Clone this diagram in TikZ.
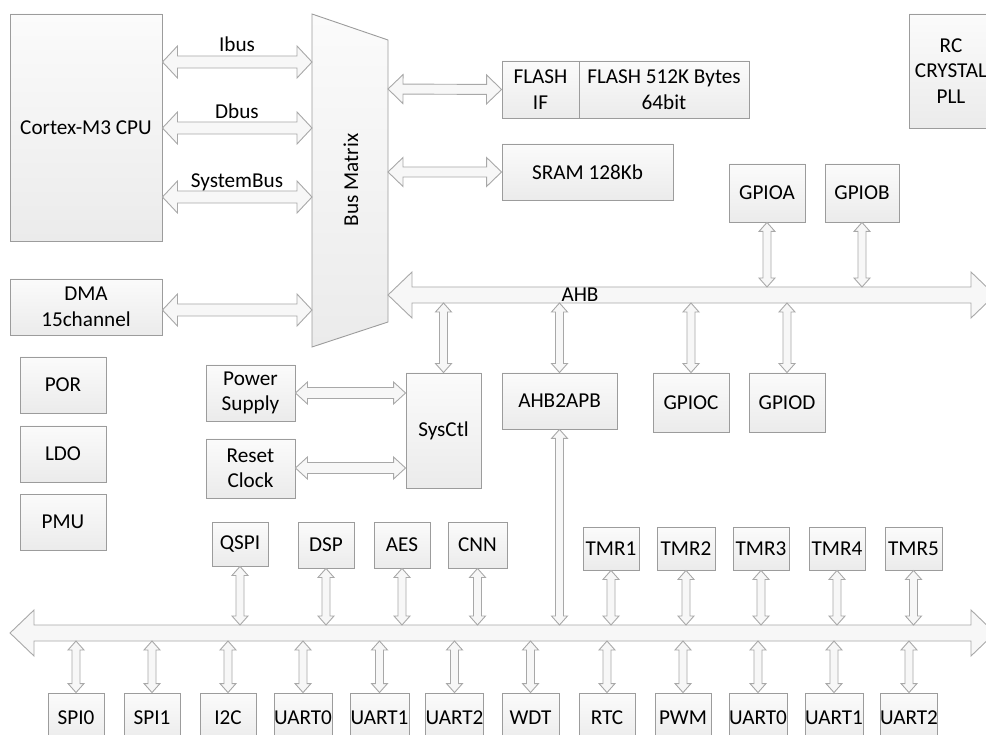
\documentclass[tikz,border=0pt]{standalone}
\usepackage{fontspec}
\setmainfont{Carlito}
\usepackage{tikz}
\usetikzlibrary{calc}
\definecolor{boxline}{HTML}{9C9C9C}
\definecolor{boxtop}{HTML}{FBFBFB}
\definecolor{boxbot}{HTML}{EBEBEB}
\definecolor{arrline}{HTML}{A8A8A8}
\definecolor{arrfill}{HTML}{F7F7F7}
\tikzset{
  blk/.style={rectangle, draw=boxline, line width=0.9pt, top color=boxtop, bottom color=boxbot,
              align=center, inner sep=0pt, font=\fontsize{21.2}{25.5}\selectfont},
  bmshape/.style={draw=boxline, line width=0.9pt, top color=boxtop, bottom color=boxbot},
  busarr/.style={draw=arrline, line width=0.9pt, fill=arrfill, line join=miter},
  lbl/.style={font=\fontsize{21.2}{25.5}\selectfont, inner sep=0pt},
}
% #1 shaft half width, #2 head half width, #3 head length, #4 from, #5 to
\newcommand{\dblarrow}[5]{%
  \path (#4) coordinate (da) (#5) coordinate (db);
  \draw[busarr] (da)
    -- ($(da)!#3!(db)!#2!90:(db)$) -- ($(da)!#3!(db)!#1!90:(db)$)
    -- ($(db)!#3!(da)!#1!-90:(da)$) -- ($(db)!#3!(da)!#2!-90:(da)$)
    -- (db)
    -- ($(db)!#3!(da)!#2!90:(da)$) -- ($(db)!#3!(da)!#1!90:(da)$)
    -- ($(da)!#3!(db)!#1!-90:(db)$) -- ($(da)!#3!(db)!#2!-90:(db)$)
    -- cycle;}

\begin{document}
\begin{tikzpicture}[x=1pt, y=-1pt]
  \useasboundingbox (0,0) rectangle (986,735);

  % cpu side
  \node[blk, minimum width=152, minimum height=227] (cpu) at (86,127.5) {Cortex-M3 CPU};
  \node[blk, minimum width=152, minimum height=56] (dma) at (86,307) {DMA\\15channel};
  \coordinate (bmtl) at (312,14);
  \coordinate (bmtr) at (388,40);
  \coordinate (bmbr) at (388,322);
  \coordinate (bmbl) at (312,347);
  \draw[bmshape] (bmtl) -- (bmtr) -- (bmbr) -- (bmbl) -- cycle;
  \node[lbl, rotate=90] (bmlbl) at (351,180) {Bus Matrix};

  \dblarrow{6pt}{16pt}{15pt}{cpu.east |- 0,62}{bmtl |- 0,62}
  \dblarrow{6pt}{16pt}{15pt}{cpu.east |- 0,128}{bmtl |- 0,128}
  \dblarrow{6pt}{16pt}{15pt}{cpu.east |- 0,197}{bmtl |- 0,197}
  \dblarrow{6pt}{16pt}{15pt}{dma.east |- 0,310}{bmtl |- 0,310}
  \node[lbl] (ibus) at (237,44) {Ibus};
  \node[lbl] (dbus) at (237,111) {Dbus};
  \node[lbl] (sysbus) at (237,182) {SystemBus};

  % memories
  \node[blk, minimum width=77, minimum height=57] (flashif) at (540.5,89.5) {FLASH\\IF};
  \node[blk, minimum width=170, minimum height=57] (flash) at (664,89.5) {FLASH 512K Bytes\\64bit};
  \node[blk, minimum width=171, minimum height=56] (sram) at (587.5,172) {SRAM 128Kb};
  \node[blk, minimum width=84, minimum height=114] (rc) at (951,71) {RC\\CRYSTAL\\PLL};
  \dblarrow{5pt}{14.5pt}{15pt}{bmtr |- 0,89}{flashif.west}
  \dblarrow{5pt}{14.5pt}{15pt}{bmtr |- 0,172}{sram.west}

  % AHB
  \coordinate (ahbend) at (995,295);
  \coordinate (ahbtop) at (0,287);
  \coordinate (ahbbot) at (0,303);
  \dblarrow{8pt}{23pt}{24pt}{bmtr |- 0,295}{ahbend}
  \node[lbl] (ahb) at (580,295) {AHB};

  \node[blk, minimum width=76, minimum height=58] (gpioa) at (767,193) {GPIOA};
  \node[blk, minimum width=74, minimum height=58] (gpiob) at (862,193) {GPIOB};
  \dblarrow{4pt}{8pt}{9pt}{gpioa.south}{gpioa.south |- ahbtop}
  \dblarrow{4pt}{8pt}{9pt}{gpiob.south}{gpiob.south |- ahbtop}

  \node[blk, minimum width=86, minimum height=56] (por) at (63,385) {POR};
  \node[blk, minimum width=86, minimum height=56] (ldo) at (63,454) {LDO};
  \node[blk, minimum width=86, minimum height=56] (pmu) at (63,522) {PMU};

  \node[blk, minimum width=89, minimum height=56] (power) at (250.5,393) {Power\\Supply};
  \node[blk, minimum width=89, minimum height=59] (reset) at (250.5,468.5) {Reset\\Clock};
  \node[blk, minimum width=75, minimum height=115] (sysctl) at (443.5,430.5) {SysCtl};
  \node[blk, minimum width=115, minimum height=56] (ahb2apb) at (559.5,401) {AHB2APB};
  \node[blk, minimum width=76, minimum height=59] (gpioc) at (691,402.5) {GPIOC};
  \node[blk, minimum width=76, minimum height=59] (gpiod) at (787,402.5) {GPIOD};
  \dblarrow{5.5pt}{11pt}{12pt}{power.east |- 0,393}{sysctl.west |- 0,393}
  \dblarrow{5.5pt}{11pt}{12pt}{reset.east |- 0,468}{sysctl.west |- 0,468}
  \dblarrow{4pt}{8pt}{9pt}{sysctl.north |- ahbbot}{sysctl.north}
  \dblarrow{4pt}{8pt}{9pt}{ahb2apb.north |- ahbbot}{ahb2apb.north}
  \dblarrow{4pt}{8pt}{9pt}{gpioc.north |- ahbbot}{gpioc.north}
  \dblarrow{4pt}{8pt}{9pt}{gpiod.north |- ahbbot}{gpiod.north}

  % APB
  \coordinate (apbw) at (10,633);
  \coordinate (apbe) at (995,633);
  \coordinate (apbtop) at (0,625);
  \coordinate (apbbot) at (0,641);
  \dblarrow{8pt}{23pt}{24pt}{apbw}{apbe}
  \dblarrow{4pt}{8pt}{9pt}{ahb2apb.south}{ahb2apb.south |- apbtop}

  \node[blk, minimum width=56, minimum height=44] (qspi) at (240,544) {QSPI};
  \node[blk, minimum width=56, minimum height=46] (dsp) at (326,545) {DSP};
  \node[blk, minimum width=56, minimum height=46] (aes) at (402,545) {AES};
  \node[blk, minimum width=59, minimum height=46] (cnn) at (477.5,545) {CNN};
  \node[blk, minimum width=56, minimum height=43] (tmr1) at (611,548.5) {TMR1};
  \node[blk, minimum width=58, minimum height=43] (tmr2) at (686,548.5) {TMR2};
  \node[blk, minimum width=56, minimum height=43] (tmr3) at (761,548.5) {TMR3};
  \node[blk, minimum width=56, minimum height=43] (tmr4) at (837,548.5) {TMR4};
  \node[blk, minimum width=57, minimum height=43] (tmr5) at (913.5,548.5) {TMR5};
  \dblarrow{4pt}{8pt}{9pt}{qspi.south}{qspi.south |- apbtop}
  \dblarrow{4pt}{8pt}{9pt}{dsp.south}{dsp.south |- apbtop}
  \dblarrow{4pt}{8pt}{9pt}{aes.south}{aes.south |- apbtop}
  \dblarrow{4pt}{8pt}{9pt}{cnn.south}{cnn.south |- apbtop}
  \dblarrow{4pt}{8pt}{9pt}{tmr1.south}{tmr1.south |- apbtop}
  \dblarrow{4pt}{8pt}{9pt}{tmr2.south}{tmr2.south |- apbtop}
  \dblarrow{4pt}{8pt}{9pt}{tmr3.south}{tmr3.south |- apbtop}
  \dblarrow{4pt}{8pt}{9pt}{tmr4.south}{tmr4.south |- apbtop}
  \dblarrow{4pt}{8pt}{9pt}{tmr5.south}{tmr5.south |- apbtop}

  % bottom row
  \node[blk, minimum width=56, minimum height=50] (spi0) at (76,718) {SPI0};
  \node[blk, minimum width=56, minimum height=50] (spi1) at (152,718) {SPI1};
  \node[blk, minimum width=56, minimum height=50] (i2c) at (228,718) {I2C};
  \node[blk, minimum width=58, minimum height=50] (uart0) at (303,718) {UART0};
  \node[blk, minimum width=59, minimum height=50] (uart1) at (379.5,718) {UART1};
  \node[blk, minimum width=57, minimum height=50] (uart2) at (454.5,718) {UART2};
  \node[blk, minimum width=57, minimum height=50] (wdt) at (530.5,718) {WDT};
  \node[blk, minimum width=56, minimum height=50] (rtc) at (607,718) {RTC};
  \node[blk, minimum width=56, minimum height=50] (pwm) at (683,718) {PWM};
  \node[blk, minimum width=58, minimum height=50] (uart0b) at (758,718) {UART0};
  \node[blk, minimum width=58, minimum height=50] (uart1b) at (834,718) {UART1};
  \node[blk, minimum width=56, minimum height=50] (uart2b) at (909,718) {UART2};
  \dblarrow{4pt}{8pt}{9pt}{spi0.north |- apbbot}{spi0.north}
  \dblarrow{4pt}{8pt}{9pt}{spi1.north |- apbbot}{spi1.north}
  \dblarrow{4pt}{8pt}{9pt}{i2c.north |- apbbot}{i2c.north}
  \dblarrow{4pt}{8pt}{9pt}{uart0.north |- apbbot}{uart0.north}
  \dblarrow{4pt}{8pt}{9pt}{uart1.north |- apbbot}{uart1.north}
  \dblarrow{4pt}{8pt}{9pt}{uart2.north |- apbbot}{uart2.north}
  \dblarrow{4pt}{8pt}{9pt}{wdt.north |- apbbot}{wdt.north}
  \dblarrow{4pt}{8pt}{9pt}{rtc.north |- apbbot}{rtc.north}
  \dblarrow{4pt}{8pt}{9pt}{pwm.north |- apbbot}{pwm.north}
  \dblarrow{4pt}{8pt}{9pt}{uart0b.north |- apbbot}{uart0b.north}
  \dblarrow{4pt}{8pt}{9pt}{uart1b.north |- apbbot}{uart1b.north}
  \dblarrow{4pt}{8pt}{9pt}{uart2b.north |- apbbot}{uart2b.north}
\end{tikzpicture}
\end{document}
